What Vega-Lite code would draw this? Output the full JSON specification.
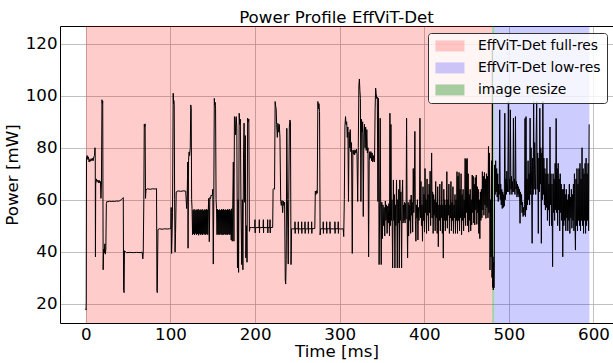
{
  "$schema": "https://vega.github.io/schema/vega-lite/v6.json",
  "width": 553,
  "height": 297,
  "autosize": {"type": "none"},
  "padding": {"left": 60, "top": 26, "right": 0, "bottom": 40},
  "background": "white",
  "title": {"text": "Power Profile EffViT-Det", "font": "DejaVu Sans", "fontSize": 16.67, "fontWeight": "normal", "color": "black", "anchor": "middle", "baseline": "alphabetic", "offset": 3, "dy": 17},
  "config": {
    "font": "DejaVu Sans",
    "view": {"stroke": null},
    "axis": {"labelFont": "DejaVu Sans", "titleFont": "DejaVu Sans", "labelFontSize": 16.67, "titleFontSize": 16.67, "titleFontWeight": "normal", "labelColor": "black", "titleColor": "black", "ticks": false, "domainColor": "black", "domainWidth": 1, "gridColor": "#b0b0b0", "gridWidth": 0.8, "gridOpacity": 1}
  },
  "datasets": {
    "spans": [
      {"phase": "EffViT-Det full-res", "start": 0, "end": 480.2},
      {"phase": "image resize", "start": 480.2, "end": 482.8},
      {"phase": "EffViT-Det low-res", "start": 482.8, "end": 595.2}
    ],
    "power": [
      {"t":0,"p":18},{"t":0.2,"p":17.5},{"t":0.4,"p":21},{"t":0.7,"p":76},{"t":1.5,"p":77},{"t":2.3,"p":75.5},{"t":3,"p":76.5},{"t":3.8,"p":74.5},{"t":4.6,"p":75.5},{"t":5.4,"p":74.8},{"t":6.2,"p":75.8},{"t":7,"p":75},{"t":7.8,"p":76},{"t":8.6,"p":75},{"t":9.4,"p":76.5},{"t":10.2,"p":77},{"t":10.8,"p":80},{"t":11.1,"p":76},{"t":11.3,"p":38},{"t":11.6,"p":66},{"t":12.4,"p":68},{"t":13.2,"p":67},{"t":14,"p":67.5},{"t":14.8,"p":66.5},{"t":15.6,"p":67.5},{"t":16.4,"p":66.5},{"t":17.2,"p":67},{"t":17.8,"p":60.5},{"t":18.4,"p":66},{"t":19,"p":98.5},{"t":19.5,"p":97},{"t":19.9,"p":98},{"t":20.4,"p":33},{"t":21,"p":41},{"t":21.7,"p":39.5},{"t":22.4,"p":43},{"t":23,"p":39},{"t":23.6,"p":41},{"t":24.2,"p":58.5},{"t":24.8,"p":59.3},{"t":26,"p":59.2},{"t":28,"p":59.4},{"t":30,"p":59.3},{"t":32,"p":59.4},{"t":34,"p":59.3},{"t":36,"p":59.5},{"t":38,"p":59.4},{"t":40,"p":59.6},{"t":42,"p":60},{"t":43.5,"p":60.6},{"t":44.2,"p":60.8},{"t":44.6,"p":25},{"t":45.2,"p":24.2},{"t":45.6,"p":40.3},{"t":48,"p":39.6},{"t":52,"p":39.7},{"t":56,"p":39.6},{"t":60,"p":39.7},{"t":64,"p":39.6},{"t":66.5,"p":39.8},{"t":67.3,"p":37.2},{"t":67.8,"p":39.5},{"t":68.5,"p":60},{"t":69,"p":89},{"t":69.5,"p":88},{"t":70,"p":89.2},{"t":70.5,"p":60.5},{"t":71,"p":63.8},{"t":73,"p":64.2},{"t":76,"p":64},{"t":79,"p":64.2},{"t":82,"p":64.1},{"t":83.5,"p":64.3},{"t":84,"p":25},{"t":84.4,"p":24.2},{"t":85.2,"p":48.5},{"t":87,"p":48.8},{"t":90,"p":48.6},{"t":93,"p":48.8},{"t":96,"p":48.7},{"t":99,"p":48.8},{"t":100.4,"p":48.9},{"t":100.8,"p":57},{"t":101.3,"p":39.3},{"t":101.8,"p":45},{"t":102.4,"p":55},{"t":103.2,"p":101},{"t":103.6,"p":97},{"t":104,"p":98.2},{"t":104.4,"p":96.5},{"t":104.9,"p":60},{"t":105.4,"p":39.8},{"t":106,"p":47},{"t":106.8,"p":63},{"t":109,"p":63.4},{"t":112,"p":63.2},{"t":115,"p":63.4},{"t":118,"p":63.3},{"t":119.1,"p":56.6},{"t":119.8,"p":62},{"t":120.4,"p":74.5},{"t":120.8,"p":41.3},{"t":121.3,"p":75},{"t":122,"p":78.4},{"t":122.6,"p":77},{"t":123.4,"p":80},{"t":124,"p":96.5},{"t":124.5,"p":95},{"t":125,"p":60},{"t":125.5,"p":56.5},
      {"t":126.1,"p":46.5},{"t":126.7,"p":56},{"t":127.3,"p":46.8},{"t":127.9,"p":56.3},{"t":128.5,"p":46.4},{"t":129.1,"p":55.8},{"t":129.7,"p":47},{"t":130.3,"p":56.2},{"t":130.9,"p":46.5},{"t":131.5,"p":56},{"t":132.1,"p":46.8},{"t":132.7,"p":56.4},{"t":133.3,"p":46.3},{"t":133.9,"p":55.9},{"t":134.5,"p":46.9},{"t":135.1,"p":56.2},{"t":135.7,"p":46.5},{"t":136.3,"p":56},{"t":136.9,"p":46.7},{"t":137.5,"p":56.3},{"t":138.1,"p":46.4},{"t":138.7,"p":55.8},{"t":139.3,"p":46.9},{"t":139.9,"p":56.2},{"t":140.5,"p":46.6},{"t":141.1,"p":56},{"t":141.7,"p":46.5},{"t":142.3,"p":56.4},{"t":142.9,"p":46.8},{"t":143.5,"p":56.1},{"t":144.1,"p":46.5},{"t":144.7,"p":56},
      {"t":145.2,"p":60.5},{"t":145.9,"p":43.8},{"t":146.5,"p":60.8},{"t":147.3,"p":60.4},{"t":148,"p":61.8},{"t":148.8,"p":61.5},{"t":149.5,"p":62},{"t":150,"p":64},{"t":150.6,"p":35.2},{"t":151.2,"p":60},{"t":151.8,"p":99},{"t":152.3,"p":96.5},{"t":152.8,"p":97.5},{"t":153.3,"p":95},{"t":153.9,"p":60},{"t":154.4,"p":56.5},
      {"t":155,"p":46.5},{"t":155.6,"p":56.3},{"t":156.2,"p":46.7},{"t":156.8,"p":56},{"t":157.4,"p":46.4},{"t":158,"p":56.2},{"t":158.6,"p":46.8},{"t":159.2,"p":55.9},{"t":159.8,"p":46.5},{"t":160.4,"p":56.3},{"t":161,"p":46.6},{"t":161.6,"p":56.1},{"t":162.2,"p":46.4},{"t":162.8,"p":56.4},{"t":163.4,"p":46.8},{"t":164,"p":56},{"t":164.6,"p":46.5},{"t":165.2,"p":56.2},{"t":165.8,"p":46.7},{"t":166.4,"p":56},{"t":167,"p":46.4},{"t":167.6,"p":56.3},{"t":168.2,"p":46.8},{"t":168.8,"p":56.1},{"t":169.4,"p":46.5},{"t":170,"p":56.4},{"t":170.6,"p":46.6},{"t":171.2,"p":55.8},{"t":171.8,"p":44.5},{"t":172.4,"p":56.5},{"t":173,"p":44},{"t":173.6,"p":58},
      {"t":174.3,"p":74.5},{"t":175,"p":44},{"t":175.6,"p":92},{"t":176.3,"p":91},{"t":177,"p":85},{"t":177.7,"p":92},{"t":178.4,"p":88},{"t":179.2,"p":33.7},{"t":179.9,"p":60},{"t":180.5,"p":32},{"t":181.2,"p":93.3},{"t":181.9,"p":89},{"t":182.6,"p":91},{"t":183.3,"p":59},{"t":184.2,"p":35},{"t":184.9,"p":60},{"t":185.6,"p":33},{"t":186.3,"p":76},{"t":187,"p":89.5},{"t":187.7,"p":59},{"t":188.4,"p":84.7},{"t":189.1,"p":37.6},{"t":189.8,"p":50},{"t":190.5,"p":35.9},{"t":191.2,"p":91.4},{"t":191.9,"p":90},{"t":192.6,"p":91},{"t":193.3,"p":47.8},{"t":194,"p":49.3},
      {"t":196,"p":49.3},{"t":199.6,"p":49.2},{"t":199.9,"p":52.3},{"t":200.1,"p":47.2},{"t":200.3,"p":49.2},{"t":204.7,"p":49.3},{"t":205,"p":52.3},{"t":205.2,"p":47.2},{"t":205.4,"p":49.2},{"t":209.5,"p":49.3},{"t":209.8,"p":52.3},{"t":210,"p":47.2},{"t":210.2,"p":49.3},{"t":214.6,"p":49.2},{"t":214.9,"p":52.3},{"t":215.1,"p":47.2},{"t":215.3,"p":49.3},{"t":217.4,"p":49.2},{"t":217.7,"p":52.3},{"t":217.9,"p":47.2},{"t":218.1,"p":49.3},{"t":220.8,"p":49.3},
      {"t":221.3,"p":64},{"t":222.2,"p":64.3},{"t":223,"p":64},{"t":223.7,"p":97.8},{"t":224.3,"p":96},{"t":224.9,"p":95.2},{"t":225.5,"p":89},{"t":226.3,"p":84},{"t":227,"p":89.4},{"t":227.8,"p":86},{"t":228.6,"p":89},{"t":229.4,"p":84},{"t":230.3,"p":59.3},{"t":231,"p":57.8},{"t":231.8,"p":59.7},{"t":232.6,"p":55},{"t":233.3,"p":59.5},{"t":234.1,"p":57.8},{"t":234.9,"p":59},{"t":235.7,"p":29},{"t":236.2,"p":27.5},{"t":236.8,"p":37},{"t":237.5,"p":87.5},{"t":238.2,"p":60},{"t":239.2,"p":35.2},{"t":239.8,"p":60},{"t":240.5,"p":88},{"t":241.2,"p":90.7},{"t":241.8,"p":89.9},{"t":242.5,"p":35},{"t":243.2,"p":48.8},
      {"t":244,"p":48.8},{"t":247,"p":48.7},{"t":247.2,"p":51.5},{"t":247.4,"p":47},{"t":247.6,"p":48.8},{"t":250.9,"p":48.8},{"t":251.1,"p":51.5},{"t":251.3,"p":47},{"t":251.5,"p":48.8},{"t":254.9,"p":48.7},{"t":255.1,"p":51.5},{"t":255.3,"p":47},{"t":255.5,"p":48.8},{"t":258.8,"p":48.8},{"t":259,"p":51.5},{"t":259.2,"p":47},{"t":259.4,"p":48.7},{"t":262.7,"p":48.8},{"t":262.9,"p":51.5},{"t":263.1,"p":47},{"t":263.3,"p":48.8},{"t":266.7,"p":48.8},{"t":266.9,"p":51.5},{"t":267.1,"p":47},{"t":267.3,"p":48.8},{"t":270.6,"p":48.9},
      {"t":271.2,"p":63.3},{"t":272,"p":62},{"t":272.8,"p":63.5},{"t":273.5,"p":62.5},{"t":274.2,"p":97.8},{"t":274.9,"p":95},{"t":275.5,"p":97},{"t":276.2,"p":94},{"t":276.9,"p":46.4},{"t":277.5,"p":48.8},
      {"t":280.4,"p":48.8},{"t":280.6,"p":51.5},{"t":280.8,"p":47},{"t":281,"p":48.8},{"t":284.4,"p":48.7},{"t":284.6,"p":51.5},{"t":284.8,"p":47},{"t":285,"p":48.8},{"t":288.3,"p":48.8},{"t":288.5,"p":51.5},{"t":288.7,"p":47},{"t":288.9,"p":48.8},{"t":294.2,"p":48.7},{"t":294.4,"p":51.5},{"t":294.6,"p":47},{"t":294.8,"p":48.8},{"t":298.1,"p":48.8},{"t":298.3,"p":51.5},{"t":298.5,"p":47},{"t":298.7,"p":48.8},{"t":301,"p":48.7},{"t":304.2,"p":48.8},
      {"t":304.8,"p":45.8},{"t":305.5,"p":60},{"t":306.2,"p":88},{"t":306.9,"p":92},{"t":307.6,"p":89},{"t":308.3,"p":90},{"t":309,"p":84},{"t":309.7,"p":88},{"t":310.4,"p":59.3},{"t":311.1,"p":86},{"t":311.8,"p":80},{"t":312.5,"p":87},{"t":313.2,"p":78.5},{"t":314,"p":82},{"t":314.9,"p":39.3},{"t":315.6,"p":79},{"t":316.3,"p":77.5},{"t":317,"p":79.2},{"t":317.7,"p":77.3},{"t":318.4,"p":79},{"t":319.1,"p":78},{"t":319.8,"p":79.5},{"t":320.5,"p":77.5},{"t":321.3,"p":59.3},{"t":322,"p":80},{"t":322.7,"p":104},{"t":323.3,"p":106.5},{"t":323.9,"p":102},{"t":324.5,"p":99},{"t":325.1,"p":59.3},{"t":325.8,"p":91},{"t":326.5,"p":86},{"t":327.2,"p":90},{"t":327.9,"p":53.5},{"t":328.6,"p":85},{"t":329.3,"p":89},{"t":330,"p":80},{"t":330.7,"p":88},{"t":331.4,"p":79},{"t":332.1,"p":87},{"t":332.8,"p":78},{"t":333.5,"p":80},{"t":334.2,"p":38},{"t":334.9,"p":75},{"t":335.6,"p":78.5},{"t":336.3,"p":76},{"t":337,"p":78.5},{"t":337.7,"p":75},{"t":338.4,"p":78},{"t":339.1,"p":74.5},{"t":339.8,"p":77},{"t":340.5,"p":75},{"t":341.2,"p":74.5},{"t":341.9,"p":95},{"t":342.5,"p":103},{"t":343.1,"p":101},{"t":343.8,"p":99},{"t":344.5,"p":99.5},{"t":345.2,"p":59.3},{"t":345.9,"p":99},{"t":346.6,"p":35},{"t":347.3,"p":59},{"t":347.9,"p":91.4},{"t":348.5,"p":56},{"t":349.1,"p":35},
      {"t":349.8,"p":59},{"t":350.5,"p":45},{"t":351.2,"p":58},{"t":351.9,"p":50},{"t":352.6,"p":57},{"t":353.3,"p":46},{"t":354,"p":59.5},{"t":354.7,"p":52},{"t":355.4,"p":58},{"t":356.1,"p":47},{"t":356.8,"p":57.5},{"t":357.5,"p":51},{"t":358.2,"p":58.5},{"t":358.9,"p":46},{"t":359.4,"p":93.3},{"t":360,"p":50},{"t":360.6,"p":89},{"t":361.2,"p":52},
      {"t":361.8,"p":60},{"t":362.6,"p":33.7},{"t":363.1,"p":55},{"t":363.5,"p":67.6},{"t":364,"p":52},{"t":364.6,"p":62},{"t":365.3,"p":33.7},{"t":365.9,"p":58},{"t":366.5,"p":50},{"t":367.2,"p":67.6},{"t":367.7,"p":52},{"t":368.1,"p":33.7},{"t":368.7,"p":60},{"t":369.3,"p":51},{"t":369.9,"p":64},{"t":370.5,"p":33.7},{"t":371.1,"p":67.6},{"t":371.7,"p":52},{"t":372.3,"p":63},{"t":372.8,"p":50},{"t":373.2,"p":33.7},{"t":373.8,"p":61},{"t":374.4,"p":67.6},{"t":374.9,"p":51},{"t":375.5,"p":58},{"t":376.1,"p":52},{"t":376.7,"p":59},{"t":377.3,"p":51},{"t":377.9,"p":58.5},{"t":378.5,"p":52.5},{"t":379.1,"p":91.4},{"t":379.7,"p":55},{"t":380.3,"p":37.6},{"t":380.9,"p":59},
      {"t":381.5,"p":46},{"t":382.1,"p":58},{"t":382.7,"p":52},{"t":383.3,"p":60},{"t":383.9,"p":47},{"t":384.5,"p":61.8},{"t":385.1,"p":54},{"t":385.7,"p":59},{"t":386.3,"p":47.5},{"t":387,"p":72},{"t":387.6,"p":55},{"t":388.2,"p":60},{"t":388.9,"p":86.3},{"t":389.5,"p":52},{"t":390.1,"p":44},{"t":390.7,"p":58},{"t":391.3,"p":53},{"t":391.9,"p":60},{"t":392.5,"p":44.5},{"t":393.1,"p":57},{"t":393.7,"p":52},{"t":394.4,"p":58},{"t":394.9,"p":91.4},{"t":395.5,"p":53},{"t":396.1,"p":67},{"t":396.7,"p":50},{"t":397.3,"p":58},{"t":397.9,"p":44},{"t":398.5,"p":65},{"t":399.1,"p":52},{"t":399.7,"p":62},{"t":400.3,"p":47.5},{"t":400.9,"p":72},{"t":401.5,"p":55},{"t":402.1,"p":60},{"t":402.7,"p":47},{"t":403.3,"p":68},{"t":403.9,"p":54},{"t":404.5,"p":62},{"t":405.1,"p":48},{"t":405.7,"p":66},{"t":406.3,"p":55},{"t":406.9,"p":71},{"t":407.5,"p":50},{"t":408.1,"p":60},{"t":408.7,"p":78},{"t":409.3,"p":53},{"t":409.9,"p":63},{"t":410.5,"p":47},
      {"t":411.1,"p":62},{"t":411.7,"p":54},{"t":412.3,"p":60},{"t":412.9,"p":48},{"t":413.5,"p":67},{"t":414.1,"p":53},{"t":414.7,"p":59},{"t":415.3,"p":47},{"t":415.9,"p":65},{"t":416.6,"p":41.9},{"t":417.2,"p":58},{"t":417.8,"p":52},{"t":418.4,"p":66},{"t":419,"p":48},{"t":419.6,"p":58},{"t":420.2,"p":53},{"t":420.8,"p":67},{"t":421.4,"p":47},{"t":422,"p":58},{"t":422.5,"p":37.5},{"t":423.1,"p":64},{"t":423.7,"p":52},{"t":424.3,"p":60},{"t":424.9,"p":48},{"t":425.5,"p":58},{"t":426.1,"p":52},{"t":426.7,"p":70.8},{"t":427.3,"p":49},{"t":427.9,"p":60},{"t":428.5,"p":54},{"t":429.1,"p":66},{"t":429.7,"p":47},{"t":430.3,"p":58},{"t":430.9,"p":53},{"t":431.5,"p":67},{"t":432.1,"p":48},{"t":432.7,"p":59},{"t":433.3,"p":52},{"t":433.9,"p":65},{"t":434.5,"p":47},{"t":435.1,"p":58},{"t":435.7,"p":53},{"t":436.3,"p":62},{"t":436.9,"p":47},{"t":437.5,"p":60},{"t":438.1,"p":52},
      {"t":438.7,"p":70.8},{"t":439.3,"p":47},{"t":439.9,"p":69},{"t":440.5,"p":52},{"t":441.1,"p":70.5},{"t":441.7,"p":48},{"t":442.3,"p":64},{"t":442.9,"p":53},{"t":443.5,"p":70},{"t":444.1,"p":46.5},{"t":444.7,"p":62},{"t":445.3,"p":52},{"t":445.9,"p":64},{"t":446.5,"p":48},{"t":447.1,"p":60},{"t":447.7,"p":53},{"t":448.3,"p":75.9},{"t":448.9,"p":50},{"t":449.5,"p":75.5},{"t":450.1,"p":55},{"t":450.7,"p":75.9},{"t":451.3,"p":50},{"t":451.9,"p":70},{"t":452.5,"p":47.5},{"t":453.1,"p":62},{"t":453.7,"p":52},{"t":454.3,"p":64},{"t":454.9,"p":48},{"t":455.5,"p":60},{"t":456.1,"p":50.3},{"t":456.7,"p":69.5},{"t":457.3,"p":55},{"t":457.9,"p":69},{"t":458.5,"p":51},{"t":459.1,"p":66},{"t":459.7,"p":50.3},{"t":460.3,"p":68.5},{"t":460.9,"p":56},{"t":461.5,"p":69.5},{"t":462.1,"p":50.5},{"t":462.7,"p":65},{"t":463.3,"p":55},{"t":463.9,"p":64},{"t":464.5,"p":47},{"t":465.1,"p":60},{"t":465.7,"p":45},{"t":466.3,"p":63},{"t":466.9,"p":52},{"t":467.5,"p":64},{"t":468.1,"p":53},{"t":468.7,"p":70.8},{"t":469.3,"p":56},{"t":469.9,"p":69},{"t":470.5,"p":54},{"t":471.1,"p":70.5},{"t":471.7,"p":58},{"t":472.3,"p":68},{"t":472.9,"p":52.8},{"t":473.5,"p":70},{"t":474.1,"p":57},{"t":474.7,"p":69},{"t":475.3,"p":53},{"t":475.9,"p":80.5},{"t":476.5,"p":55},{"t":477.1,"p":78},{"t":477.7,"p":32.9},{"t":478.3,"p":60},{"t":478.9,"p":38},{"t":479.5,"p":75},{"t":480.1,"p":30},{"t":480.5,"p":118},{"t":480.9,"p":26.2},{"t":481.3,"p":38},{"t":481.6,"p":25.2},{"t":482,"p":36},{"t":482.4,"p":26},{"t":482.8,"p":34},{"t":483.2,"p":73.4},
      {"t":483.8,"p":62},{"t":484.4,"p":75},{"t":485,"p":63},{"t":485.6,"p":72},{"t":486.2,"p":61},{"t":486.8,"p":70},{"t":487.4,"p":59.3},{"t":488,"p":66},{"t":488.6,"p":62},{"t":489.2,"p":94.6},{"t":489.8,"p":60},{"t":490.4,"p":66},{"t":491,"p":58},{"t":491.6,"p":64},{"t":492.2,"p":56.6},{"t":492.8,"p":63},{"t":493.4,"p":57},{"t":494,"p":62},{"t":494.6,"p":57.5},{"t":495.2,"p":93.3},{"t":495.8,"p":60},{"t":496.4,"p":68},{"t":497,"p":62},{"t":497.6,"p":71},{"t":498.2,"p":63},{"t":498.8,"p":68},{"t":499.4,"p":97.8},{"t":500,"p":63},{"t":500.6,"p":68},{"t":501.2,"p":62},{"t":501.8,"p":94.6},{"t":502.4,"p":64},{"t":503,"p":69},{"t":503.6,"p":62},{"t":504.2,"p":67},{"t":504.8,"p":63},{"t":505.4,"p":91.4},{"t":506,"p":63},{"t":506.6,"p":68},{"t":507.2,"p":62},{"t":507.8,"p":92},{"t":508.4,"p":64},{"t":509,"p":67},{"t":509.6,"p":61},{"t":510.2,"p":66},{"t":510.8,"p":62},{"t":511.4,"p":65},{"t":512,"p":61},{"t":512.6,"p":64},{"t":513.2,"p":50.9},{"t":513.8,"p":63},{"t":514.4,"p":58},{"t":515,"p":62},{"t":515.6,"p":55},{"t":516.2,"p":59},{"t":516.8,"p":53.5},{"t":517.4,"p":57},{"t":518,"p":54},{"t":518.6,"p":58},{"t":519.1,"p":91.3},{"t":519.7,"p":53.5},{"t":520.3,"p":92},{"t":520.9,"p":56},{"t":521.5,"p":68},{"t":522.1,"p":58},{"t":522.7,"p":75},{"t":523.3,"p":60},{"t":523.9,"p":70},{"t":524.5,"p":58},{"t":525.1,"p":91.4},{"t":525.7,"p":62},{"t":526.3,"p":80},{"t":526.9,"p":64},{"t":527.5,"p":43.2},{"t":528.1,"p":76},{"t":528.7,"p":62},{"t":529.3,"p":97.8},{"t":529.9,"p":64},{"t":530.5,"p":82},{"t":531.1,"p":70},{"t":531.7,"p":62},{"t":532.3,"p":85},{"t":532.9,"p":97.8},{"t":533.5,"p":64},{"t":534.1,"p":78},{"t":534.8,"p":47},{"t":535.4,"p":76},{"t":536,"p":63},{"t":536.6,"p":95.2},{"t":537.2,"p":66},{"t":537.8,"p":80},{"t":538.4,"p":43.2},{"t":539,"p":78},{"t":539.6,"p":60},{"t":540.2,"p":97.8},{"t":540.8,"p":62},{"t":541.4,"p":76},{"t":542,"p":58},{"t":542.6,"p":72},{"t":543.2,"p":56},{"t":543.8,"p":70},{"t":544.4,"p":57},{"t":545,"p":76},{"t":545.6,"p":52},{"t":546.2,"p":70},{"t":546.8,"p":56},{"t":547.4,"p":66},{"t":548,"p":50},{"t":548.6,"p":88},{"t":549.2,"p":58},{"t":549.8,"p":70},{"t":550.4,"p":50},{"t":551,"p":66},{"t":551.7,"p":34.2},
      {"t":552.3,"p":70},{"t":552.9,"p":55},{"t":553.5,"p":68},{"t":554.1,"p":52},{"t":554.7,"p":74},{"t":555.3,"p":56},{"t":555.9,"p":91.3},{"t":556.5,"p":55},{"t":557.1,"p":72},{"t":557.7,"p":50},{"t":558.3,"p":74},{"t":558.9,"p":56},{"t":559.5,"p":68},{"t":560.1,"p":48},{"t":560.7,"p":70},{"t":561.3,"p":55},{"t":561.9,"p":66},{"t":562.5,"p":52},{"t":563.1,"p":64},{"t":563.7,"p":38},{"t":564.3,"p":64},{"t":564.9,"p":50},{"t":565.5,"p":66},{"t":566.1,"p":52},{"t":566.7,"p":62},{"t":567.3,"p":48},{"t":567.9,"p":64},{"t":568.5,"p":53},{"t":569.1,"p":60},{"t":569.7,"p":48},{"t":570.3,"p":62},{"t":570.9,"p":52},{"t":571.5,"p":66},{"t":572.1,"p":47},{"t":572.7,"p":61},{"t":573.3,"p":53},{"t":573.9,"p":64},{"t":574.5,"p":49},{"t":575.1,"p":62},{"t":575.7,"p":52},{"t":576.3,"p":66},{"t":576.9,"p":48},{"t":577.5,"p":70},{"t":578.1,"p":52},{"t":578.7,"p":40.6},{"t":579.3,"p":68},{"t":579.9,"p":50},{"t":580.5,"p":72},{"t":581.1,"p":48},{"t":581.7,"p":66},{"t":582.3,"p":52},{"t":582.9,"p":72},{"t":583.5,"p":50},{"t":584.1,"p":74},{"t":584.7,"p":48},{"t":585.3,"p":68},{"t":585.9,"p":52},{"t":586.5,"p":80},{"t":587.1,"p":50},{"t":587.7,"p":72},{"t":588.3,"p":47},{"t":588.9,"p":70},{"t":589.5,"p":52},{"t":590.1,"p":74},{"t":590.7,"p":47},{"t":591.3,"p":76},{"t":591.9,"p":50},{"t":592.5,"p":70},{"t":593.1,"p":52},{"t":593.7,"p":74},{"t":594.3,"p":48},{"t":594.9,"p":89}
    ]
  },
  "resolve": {"axis": {"x": "independent"}},
  "layer": [
    {
      "data": {"name": "spans"},
      "mark": {"type": "rect"},
      "encoding": {
        "x": {"field": "start", "type": "quantitative", "title": "Time [ms]",
              "scale": {"domain": [-30.6, 623.1], "nice": false, "zero": false},
              "axis": {"orient": "bottom", "values": [0, 100, 200, 300, 400, 500, 600], "format": "d", "grid": true, "domain": true, "labelPadding": 3, "titlePadding": 1, "labelFlush": false}},
        "x2": {"field": "end"},
        "color": {"field": "phase", "type": "nominal",
                  "scale": {"domain": ["EffViT-Det full-res", "EffViT-Det low-res", "image resize"], "range": ["rgba(255,0,0,0.2)", "rgba(0,0,255,0.2)", "rgba(0,128,0,0.35)"]},
                  "legend": {"orient": "none", "legendX": 368, "legendY": 7, "title": null, "symbolType": "M-1,-1H4.273V1H-1Z", "symbolSize": 121, "symbolStrokeWidth": 0, "symbolOpacity": 1, "labelOffset": 30, "labelFont": "DejaVu Sans", "labelFontSize": 13.89, "labelColor": "black", "rowPadding": 7, "padding": 6, "fillColor": "rgba(255,255,255,0.8)", "strokeColor": "#333333", "cornerRadius": 3}}
      }
    },
    {
      "data": {"name": "power"},
      "mark": {"type": "line", "color": "black", "strokeWidth": 1},
      "encoding": {
        "x": {"field": "t", "type": "quantitative", "title": null,
              "axis": {"orient": "top", "labels": false, "grid": false, "domain": true, "title": null, "minExtent": 0, "maxExtent": 0, "labelPadding": 0, "offset": 0}},
        "y": {"field": "p", "type": "quantitative", "title": "Power [mW]",
              "scale": {"domain": [12.5, 126.9], "nice": false, "zero": false},
              "axis": {"values": [20, 40, 60, 80, 100, 120], "grid": true, "domain": true, "labelPadding": 3, "titlePadding": 4}}
      }
    }
  ]
}
